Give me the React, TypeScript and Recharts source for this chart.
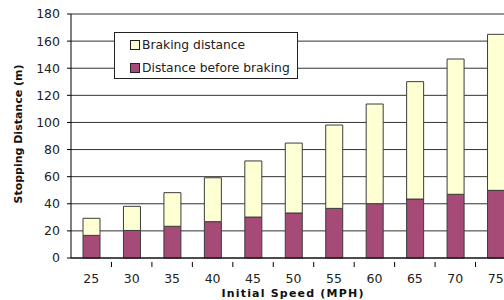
import React from 'react'
import {
  BarChart,
  Bar,
  XAxis,
  YAxis,
  CartesianGrid,
  Legend
} from 'recharts'

const speeds = ['25', '30', '35', '40', '45', '50', '55', '60', '65', '70', '75']
const beforeBraking = [16.7, 20.3, 23.4, 26.8, 30.2, 33.2, 36.6, 40.1, 43.5, 47.0, 49.9]
const brakingDistance = [12.6, 17.8, 24.8, 32.4, 41.4, 51.6, 61.5, 73.5, 86.6, 99.8, 115.1]
const yTicks = [0, 20, 40, 60, 80, 100, 120, 140, 160, 180]

const seriesNames = {
  before: 'Distance before braking',
  braking: 'Braking distance'
}

const colors = {
  before: '#A64B78',
  braking: '#FFFFD4',
  barStroke: '#3c3c3c'
}

const data = speeds.map((speed, i) => ({
  speed,
  before: beforeBraking[i],
  braking: brakingDistance[i]
}))

const FONT = '"DejaVu Sans", Verdana, sans-serif'

const XTick = (props: any) => {
  const { x, y, payload } = props
  const half = payload && payload.offset ? payload.offset : 20.2
  return (
    <g>
      <line x1={x + half} y1={y - 4} x2={x + half} y2={y + 1} stroke="#000" />
      <text
        x={x}
        y={y + 17}
        textAnchor="middle"
        fontSize={12.5}
        fontFamily={FONT}
        fill="#222"
      >
        {payload.value}
      </text>
    </g>
  )
}

const LegendBox = () => {
  const items = [
    { name: seriesNames.braking, color: colors.braking },
    { name: seriesNames.before, color: colors.before }
  ]
  return (
    <div
      style={{
        width: 184,
        height: 47,
        border: '1px solid #222',
        background: '#fff',
        boxSizing: 'border-box',
        paddingTop: 2,
        paddingLeft: 15,
        fontFamily: FONT,
        fontSize: 12.3,
        color: '#222'
      }}
    >
      {items.map((item) => (
        <div
          key={item.name}
          style={{ display: 'flex', alignItems: 'center', height: 19, marginBottom: 4 }}
        >
          <span
            style={{
              display: 'inline-block',
              width: 8,
              height: 8,
              border: '1px solid #222',
              background: item.color,
              marginRight: 2
            }}
          />
          <span>{item.name}</span>
        </div>
      ))}
    </div>
  )
}

const App: React.FC = () => {
  return (
    <div
      style={{
        position: 'fixed',
        left: 0,
        top: 0,
        width: 504,
        height: 300,
        overflow: 'hidden',
        background: '#fff'
      }}
    >
      <BarChart
        width={530}
        height={300}
        data={data}
        margin={{ top: 14, right: 14, bottom: 0, left: 0 }}
        barSize={17}
      >
        <CartesianGrid vertical={false} stroke="#333" />
        <XAxis
          dataKey="speed"
          height={42}
          axisLine={{ stroke: '#000' }}
          tickLine={false}
          tick={<XTick />}
          interval={0}
          label={{
            content: (p: any) => {
              const vb = p.viewBox || { x: 71, y: 258, width: 445, height: 42 }
              return (
                <text
                  x={293}
                  y={vb.y + 39}
                  textAnchor="middle"
                  fontSize={11}
                  fontWeight="bold"
                  fontFamily={FONT}
                  letterSpacing={1.2}
                  fill="#111"
                >
                  Initial Speed (MPH)
                </text>
              )
            }
          }}
        />
        <YAxis
          width={71}
          domain={[0, 180]}
          ticks={yTicks}
          interval={0}
          axisLine={{ stroke: '#000' }}
          tickLine={{ stroke: '#000' }}
          tickSize={4}
          tickMargin={7}
          tick={{ fontSize: 12.5, fontFamily: FONT, fill: '#222' }}
          label={{
            content: (p: any) => {
              const vb = p.viewBox || { x: 0, y: 14, width: 71, height: 244 }
              const cx = 18
              const cy = vb.y + vb.height / 2 - 2
              return (
                <text
                  x={cx}
                  y={cy}
                  transform={`rotate(-90, ${cx}, ${cy})`}
                  textAnchor="middle"
                  dominantBaseline="central"
                  fontSize={11}
                  fontWeight="bold"
                  fontFamily={FONT}
                  fill="#111"
                >
                  Stopping Distance (m)
                </text>
              )
            }
          }}
        />
        <Legend
          layout="vertical"
          align="center"
          verticalAlign="middle"
          wrapperStyle={{ position: 'absolute', left: 114, top: 32, width: 'auto' }}
          content={() => <LegendBox />}
        />
        <Bar
          dataKey="before"
          name={seriesNames.before}
          stackId="stop"
          fill={colors.before}
          stroke={colors.barStroke}
          strokeWidth={1}
          isAnimationActive={false}
        />
        <Bar
          dataKey="braking"
          name={seriesNames.braking}
          stackId="stop"
          fill={colors.braking}
          stroke={colors.barStroke}
          strokeWidth={1}
          isAnimationActive={false}
        />
      </BarChart>
    </div>
  )
}

export default App
